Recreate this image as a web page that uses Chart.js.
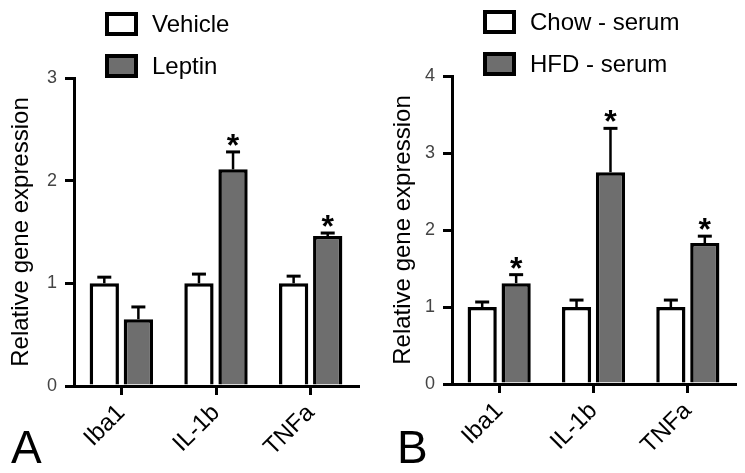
<!DOCTYPE html>
<html>
<head>
<meta charset="utf-8">
<title>Relative gene expression</title>
<script src="https://cdn.jsdelivr.net/npm/chart.js@4.4.1/dist/chart.umd.min.js"></script>
<style>
  html, body { margin: 0; padding: 0; background: #fff; }
  #wrap { position: relative; width: 745px; height: 473px; }
  .panel { position: absolute; top: 0; }
</style>
</head>
<body>
<div id="wrap">
  <canvas id="panelA" class="panel" width="372" height="473" style="left:0"></canvas>
  <canvas id="panelB" class="panel" width="373" height="473" style="left:372px"></canvas>
</div>
<script>
// ------------------------------------------
// Data
// ------------------------------------------
const genes = ['Iba1', 'IL-1b', 'TNFa'];

// Panel A: Vehicle vs Leptin
const vehicleMean = [1.0, 1.0, 1.0];
const vehicleSem  = [0.06, 0.09, 0.07];
const leptinMean  = [0.65, 2.11, 1.46];
const leptinSem   = [0.12, 0.17, 0.03];
const leptinSig   = [false, true, true];
const yTicksA     = [0, 1, 2, 3];

// Panel B: Chow serum vs HFD serum
const chowMean = [1.0, 1.0, 1.0];
const chowSem  = [0.065, 0.09, 0.09];
const hfdMean  = [1.31, 2.75, 1.83];
const hfdSem   = [0.11, 0.57, 0.09];
const hfdSig   = [true, true, true];
const yTicksB  = [0, 1, 2, 3, 4];

const FONT = "'Liberation Sans', Arial, Helvetica, sans-serif";
const GREY = '#6e6e6e';

Chart.defaults.font.family = FONT;
Chart.defaults.color = '#000';

// error bars (upper only), asterisks, legend and panel letter
const extrasPlugin = {
  id: 'extras',
  afterDatasetsDraw(chart) {
    const ctx = chart.ctx;
    const yScale = chart.scales.y;
    ctx.save();
    ctx.strokeStyle = '#000';
    ctx.fillStyle = '#000';
    chart.data.datasets.forEach((ds, i) => {
      const meta = chart.getDatasetMeta(i);
      meta.data.forEach((bar, j) => {
        const top = yScale.getPixelForValue(ds.data[j] + ds.sem[j]);
        ctx.lineWidth = 2.5;
        ctx.beginPath();
        ctx.moveTo(bar.x, bar.y);
        ctx.lineTo(bar.x, top);
        ctx.stroke();
        ctx.lineWidth = 3;
        ctx.beginPath();
        ctx.moveTo(bar.x - 7, top);
        ctx.lineTo(bar.x + 7, top);
        ctx.stroke();
        if (ds.sig && ds.sig[j]) {
          ctx.font = 'bold 32px ' + FONT;
          ctx.textAlign = 'center';
          ctx.textBaseline = 'alphabetic';
          ctx.fillText('*', bar.x, top + 4);
        }
      });
    });
    ctx.restore();
  },
  afterDraw(chart, args, opts) {
    const ctx = chart.ctx;
    ctx.save();
    chart.data.datasets.forEach((ds, i) => {
      const bx = opts.boxX, by = opts.boxY + i * opts.gap;
      ctx.fillStyle = ds.backgroundColor;
      ctx.fillRect(bx, by, 33, 24);
      ctx.strokeStyle = '#000';
      ctx.lineWidth = 4;
      ctx.strokeRect(bx + 2, by + 2, 29, 20);
      ctx.fillStyle = '#000';
      ctx.font = '24px ' + FONT;
      ctx.textAlign = 'left';
      ctx.textBaseline = 'alphabetic';
      ctx.fillText(ds.label, opts.textX, by + 20);
    });
    ctx.font = '46px ' + FONT;
    ctx.fillText(opts.letter, opts.letterX, 463);
    ctx.restore();
  }
};

function makePanel(id, sets, yTicks, lay) {
  const yMax = yTicks[yTicks.length - 1];
  new Chart(document.getElementById(id), {
    type: 'bar',
    data: {
      labels: genes,
      datasets: sets.map(s => ({
        label: s.label,
        data: s.mean,
        sem: s.sem,
        sig: s.sig,
        backgroundColor: s.fill,
        borderColor: '#000',
        borderWidth: 3.5,
        categoryPercentage: 0.72,
        barPercentage: 0.86
      }))
    },
    options: {
      responsive: false,
      animation: false,
      layout: { padding: { top: lay.top, right: lay.right, left: 0, bottom: 0 } },
      plugins: {
        legend: { display: false },
        tooltip: { enabled: false },
        extras: lay.extras
      },
      scales: {
        x: {
          z: 1,
          offset: true,
          grid: { offset: false, drawOnChartArea: false, tickLength: 9, lineWidth: 3, color: '#000' },
          border: { display: true, width: 3, color: '#000' },
          ticks: { autoSkip: false, maxRotation: 45, minRotation: 45, padding: 4, color: '#000', font: { size: 24 } },
          afterFit: s => { s.height = lay.xHeight; }
        },
        y: {
          z: 1,
          min: 0,
          max: yMax,
          afterBuildTicks: s => { s.ticks = yTicks.map(v => ({ value: v })); },
          grid: { drawOnChartArea: false, tickLength: 9, lineWidth: 3, color: '#000' },
          border: { display: true, width: 3, color: '#000' },
          ticks: { padding: 8, color: '#444', font: { size: 18 } },
          title: { display: true, text: 'Relative gene expression', color: '#000', font: { size: 24 }, padding: { top: lay.titlePad, bottom: 0 } },
          afterFit: s => { s.width = lay.yWidth; }
        }
      }
    },
    plugins: [extrasPlugin]
  });
}

makePanel('panelA', [
  { label: 'Vehicle', mean: vehicleMean, sem: vehicleSem, sig: null, fill: '#ffffff' },
  { label: 'Leptin', mean: leptinMean, sem: leptinSem, sig: leptinSig, fill: GREY }
], yTicksA, { top: 78, right: 14, xHeight: 87, yWidth: 74, titlePad: 7,
  extras: { boxX: 105, boxY: 12, gap: 42, textX: 152, letter: 'A', letterX: 11 } });

makePanel('panelB', [
  { label: 'Chow - serum', mean: chowMean, sem: chowSem, sig: null, fill: '#ffffff' },
  { label: 'HFD - serum', mean: hfdMean, sem: hfdSem, sig: hfdSig, fill: GREY }
], yTicksB, { top: 76, right: 10, xHeight: 89, yWidth: 80, titlePad: 17,
  extras: { boxX: 111, boxY: 10, gap: 42, textX: 158, letter: 'B', letterX: 25 } });
</script>
</body>
</html>
